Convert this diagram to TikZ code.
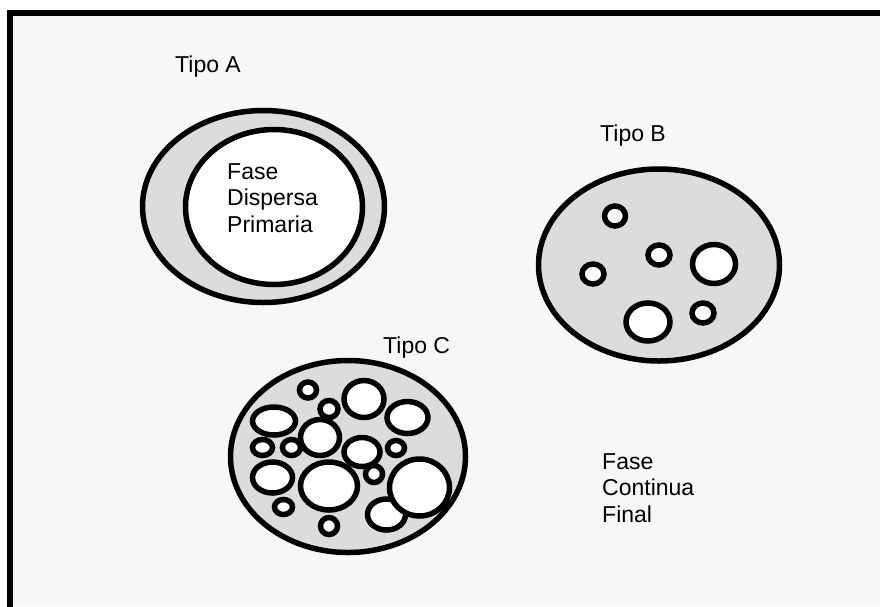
\documentclass[tikz,border=0pt]{standalone}
\usepackage{fontspec}
\setmainfont{Liberation Sans}
\definecolor{pagebg}{HTML}{F7F7F7}
\definecolor{phase}{HTML}{DCDCDC}
\tikzset{
  blob/.style={draw=black, line width=5.5pt, fill=phase},
  hole/.style={draw=black, line width=5.5pt, fill=white},
  lbl/.style={anchor=base west, inner sep=0pt, font=\fontsize{23}{26.5}\selectfont, align=left},
}
\begin{document}
\begin{tikzpicture}[x=1pt,y=-1pt]
\useasboundingbox (0,0) rectangle (880,606);
\fill[white] (0,0) rectangle (880,606);
\fill[pagebg] (10,13) rectangle (880,606);
\draw[line width=6pt] (10,620) -- (10,13) -- (890,13);

% Tipo A
\draw[blob] (263.5,206.5) ellipse [x radius=121, y radius=96];
\draw[hole] (274,207) ellipse [x radius=88.5, y radius=77.5];
\node[lbl] (ta) at (175,72) {Tipo A};
\node[lbl] (fdp) at (227,232) {Fase\\Dispersa\\Primaria};

% Tipo B
\draw[blob] (659,265) ellipse [x radius=120.5, y radius=96];
\draw[hole] (615,216) ellipse [x radius=10.5, y radius=10];
\draw[hole] (659,255) ellipse [x radius=11, y radius=10];
\draw[hole] (714,264) ellipse [x radius=21.5, y radius=19.5];
\draw[hole] (593,274) ellipse [x radius=11, y radius=10];
\draw[hole] (648,322) ellipse [x radius=22, y radius=19];
\draw[hole] (703,313) ellipse [x radius=11, y radius=10];
\node[lbl] (tb) at (600,141) {Tipo B};

% Tipo C
\draw[blob] (348,456.5) ellipse [x radius=117.5, y radius=96];
\draw[hole] (308,390) ellipse [x radius=8.5, y radius=8];
\draw[hole] (364,399) ellipse [x radius=20, y radius=18.5];
\draw[hole] (329,409) ellipse [x radius=9, y radius=8.5];
\draw[hole] (274,421) ellipse [x radius=21.5, y radius=14];
\draw[hole] (407.5,417.5) ellipse [x radius=20.5, y radius=16];
\draw[hole] (362,452) ellipse [x radius=18, y radius=14.5];
\draw[hole] (320,437.5) ellipse [x radius=19.5, y radius=18];
\draw[hole] (262.5,447.5) ellipse [x radius=10, y radius=8];
\draw[hole] (291.5,447.5) ellipse [x radius=9, y radius=8];
\draw[hole] (396,448) ellipse [x radius=8.5, y radius=7.5];
\draw[hole] (272.5,477.5) ellipse [x radius=20, y radius=15.5];
\draw[hole] (386.5,514.5) ellipse [x radius=19, y radius=15.5];
\draw[hole] (329,486) ellipse [x radius=28.5, y radius=24];
\draw[hole] (419.5,487.5) ellipse [x radius=30, y radius=28.5];
\draw[hole] (374,474) ellipse [x radius=8.5, y radius=8.5];
\draw[hole] (283.5,507) ellipse [x radius=9, y radius=7.5];
\draw[hole] (329,526) ellipse [x radius=8.5, y radius=8.5];
\node[lbl] (tc) at (383,353) {Tipo C};

\node[lbl] (fcf) at (602,522) {Fase\\Continua\\Final};
\end{tikzpicture}
\end{document}
